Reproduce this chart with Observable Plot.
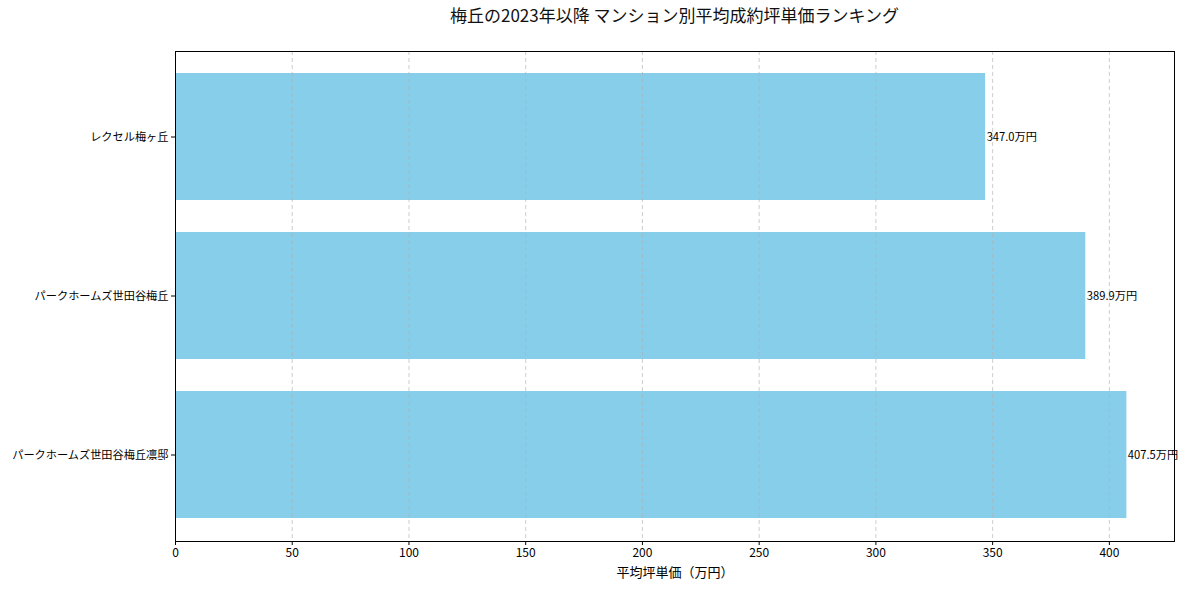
<!DOCTYPE html>
<html><head><meta charset="utf-8">
<script src="https://cdn.jsdelivr.net/npm/d3@7"></script>
<script src="https://cdn.jsdelivr.net/npm/@observablehq/plot@0.6"></script>
<style>
body{margin:0;background:#fff;font-family:"Noto Sans CJK JP",sans-serif;}
#wrap{position:relative;width:1189px;height:593px;}
#title{position:absolute;top:2px;left:175px;width:999px;text-align:center;font-size:17px;color:#111;}
</style></head><body>
<div id="wrap"><div id="title">梅丘の2023年以降 マンション別平均成約坪単価ランキング</div></div>
<script>
const names = ["レクセル梅ヶ丘","パークホームズ世田谷梅丘","パークホームズ世田谷梅丘凛邸"];
const prices = [347.0, 389.9, 407.5];
const xTicks = [0,50,100,150,200,250,300,350,400];
const data = names.map((n,i)=>({name:n, price:prices[i]}));
const font = '"Noto Sans CJK JP", sans-serif';
const chart = Plot.plot({
  width:1189, height:593,
  marginLeft:175, marginRight:15, marginTop:51, marginBottom:52,
  style:{fontFamily:font, background:"transparent", color:"#000"},
  x:{domain:[0,427.9], ticks:xTicks, label:null},
  y:{domain:names, paddingInner:0.2, paddingOuter:0.14, label:null},
  marks:[
    Plot.barX(data,{x:"price", y:"name", fill:"#87ceeb"}),
    Plot.ruleX(xTicks,{stroke:"#b0b0b0", strokeOpacity:0.8, strokeDasharray:"4,3", strokeWidth:0.8}),
    Plot.frame({stroke:"#000", strokeWidth:1}),
    Plot.axisX({ticks:xTicks, tickSize:4, tickPadding:3, fontSize:12, label:null}),
    Plot.axisY({tickSize:4, tickPadding:3, fontSize:11.2, label:null}),
    Plot.text(["平均坪単価（万円）"],{frameAnchor:"bottom", dy:35, fontSize:13, text:d=>d}),
    Plot.text(data,{x:"price", y:"name", text:d=>d.price.toFixed(1)+"万円", textAnchor:"start", dx:1, fontSize:11.2, fill:"#000"})
  ]
});
document.getElementById("wrap").prepend(chart);
chart.style.position="absolute"; chart.style.left="0"; chart.style.top="0";
</script>
</body></html>
